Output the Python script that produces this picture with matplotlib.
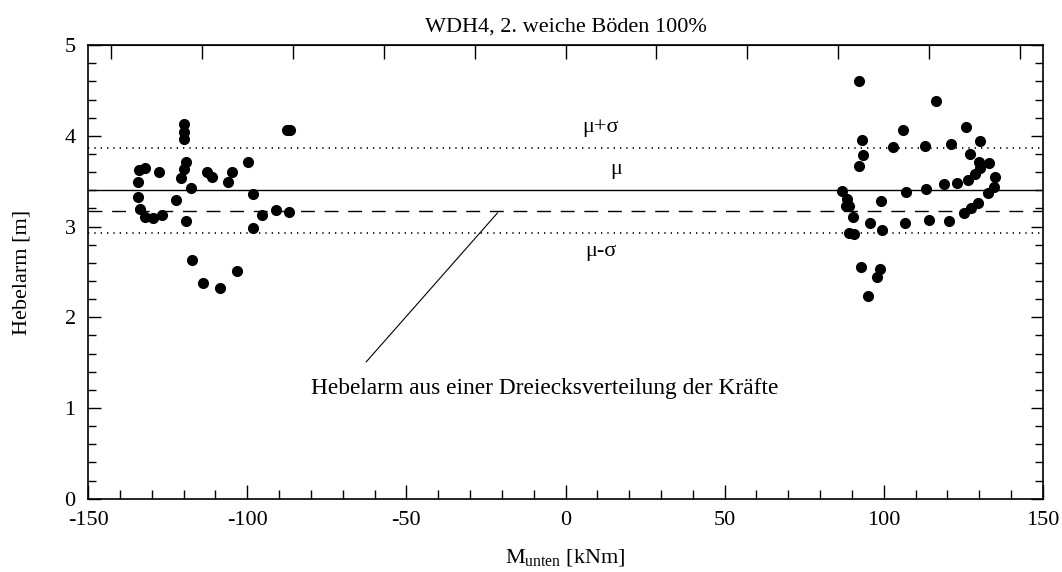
import matplotlib.pyplot as plt
import numpy as np

plt.rcParams['font.family'] = ['Liberation Serif', 'DejaVu Serif']
plt.rcParams['mathtext.fontset'] = 'custom'
plt.rcParams['mathtext.rm'] = 'Liberation Serif'
plt.rcParams['mathtext.it'] = 'Liberation Serif:italic'

# Messwerte: Moment unten [kNm] und Hebelarm [m]
m_links = [-119.9, -119.9, -119.9, -87.5, -86.7, -134.0, -132.0, -127.8, -119.2,
           -119.8, -120.8, -112.7, -111.1, -104.9, -105.9, -99.8, -134.4, -134.3,
           -117.8, -122.4, -98.2, -133.7, -132.2, -129.7, -126.8, -119.4, -95.5,
           -91.1, -87.0, -98.3, -117.4, -113.8, -108.7, -103.3]
h_links = [4.13, 4.04, 3.97, 4.06, 4.07, 3.62, 3.65, 3.60, 3.71,
           3.63, 3.54, 3.60, 3.55, 3.60, 3.49, 3.71, 3.49, 3.33,
           3.43, 3.29, 3.36, 3.19, 3.11, 3.09, 3.13, 3.06, 3.13,
           3.18, 3.16, 2.99, 2.63, 2.38, 2.32, 2.51]

m_rechts = [92.3, 116.3, 93.1, 93.5, 92.1, 105.9, 102.8, 113.0, 125.7, 121.2,
            130.3, 127.1, 130.0, 133.2, 130.2, 128.8, 135.1, 134.6, 126.5, 123.1,
            118.8, 113.4, 106.9, 132.6, 129.6, 127.3, 125.1, 87.0, 88.3, 89.1,
            88.0, 99.1, 90.4, 95.8, 106.7, 114.2, 120.4, 99.5, 89.2, 90.7,
            92.7, 98.8, 98.0, 95.1]
h_rechts = [4.60, 4.39, 3.96, 3.79, 3.67, 4.06, 3.88, 3.89, 4.10, 3.91,
            3.94, 3.80, 3.71, 3.70, 3.65, 3.58, 3.55, 3.44, 3.51, 3.48,
            3.47, 3.42, 3.38, 3.37, 3.26, 3.21, 3.15, 3.39, 3.30, 3.23,
            3.23, 3.28, 3.11, 3.04, 3.04, 3.07, 3.06, 2.96, 2.93, 2.92,
            2.56, 2.53, 2.45, 2.24]

mu = 3.40
sigma = 0.465
h_dreieck = 3.175

m = np.array(m_links + m_rechts)
h = np.array(h_links + h_rechts)

fs = 16

fig = plt.figure(figsize=(10.62, 5.72), dpi=100)
ax = fig.add_axes([0.083, 0.128, 0.899, 0.793])

ax.plot(m, h, 'o', color='black', ms=7, zorder=3)

ax.axhline(mu, color='black', lw=1.0)
ax.axhline(mu + sigma, color='black', lw=1.2, ls=(0, (0.8, 3)))
ax.axhline(mu - sigma, color='black', lw=1.2, ls=(0, (0.8, 3)))
ax.axhline(h_dreieck, color='black', lw=1.0, ls=(0, (10, 7)))

ax.text(11, mu + sigma + 0.12, 'μ+σ', ha='center', va='bottom', fontsize=fs)
ax.text(16, mu + 0.12, 'μ', ha='center', va='bottom', fontsize=fs)
ax.text(11, mu - sigma - 0.1, 'μ-σ', ha='center', va='top', fontsize=fs)

ax.plot([-62.6, -21.4], [1.51, 3.15], color='black', lw=0.8)
ax.text(-6.5, 1.22, 'Hebelarm aus einer Dreiecksverteilung der Kräfte',
        ha='center', va='center', fontsize=16.8)

ax.set_xlim(-150, 150)
ax.set_ylim(0, 5)
ax.set_xticks(np.arange(-150, 151, 50))
ax.set_xticklabels(['-150', '-100', '-50', '0', '50', '100', '150'])
ax.set_xticks(np.arange(-150, 151, 10), minor=True)
ax.set_yticks(np.arange(0, 6, 1))
ax.set_yticks(np.arange(0, 5.01, 0.2), minor=True)
ax.tick_params(axis='x', which='major', direction='in', length=10, width=1,
               labelsize=fs, pad=9)
ax.tick_params(axis='x', which='minor', direction='in', length=6.5, width=1)
ax.tick_params(axis='y', which='major', direction='in', length=9, width=1,
               labelsize=fs, right=True, pad=9)
ax.tick_params(axis='y', which='minor', direction='in', length=5.5, width=1,
               right=True)

# obere Achse mit eigener Teilung
top = ax.secondary_xaxis('top')
top.set_xticks([k * 300 / 10.5 for k in range(-5, 6)])
top.tick_params(direction='in', length=10, width=1, labeltop=False)
top.set_xticklabels([])

for s in ax.spines.values():
    s.set_linewidth(1.2)

ax.set_title('WDH4, 2. weiche Böden 100%', fontsize=fs, pad=10)
ax.set_xlabel(r'M$_{\mathrm{unten}}$ [kNm]', fontsize=fs, labelpad=12)
ax.set_ylabel('Hebelarm [m]', fontsize=fs, labelpad=24)

fig.savefig('out.png', dpi=100)
